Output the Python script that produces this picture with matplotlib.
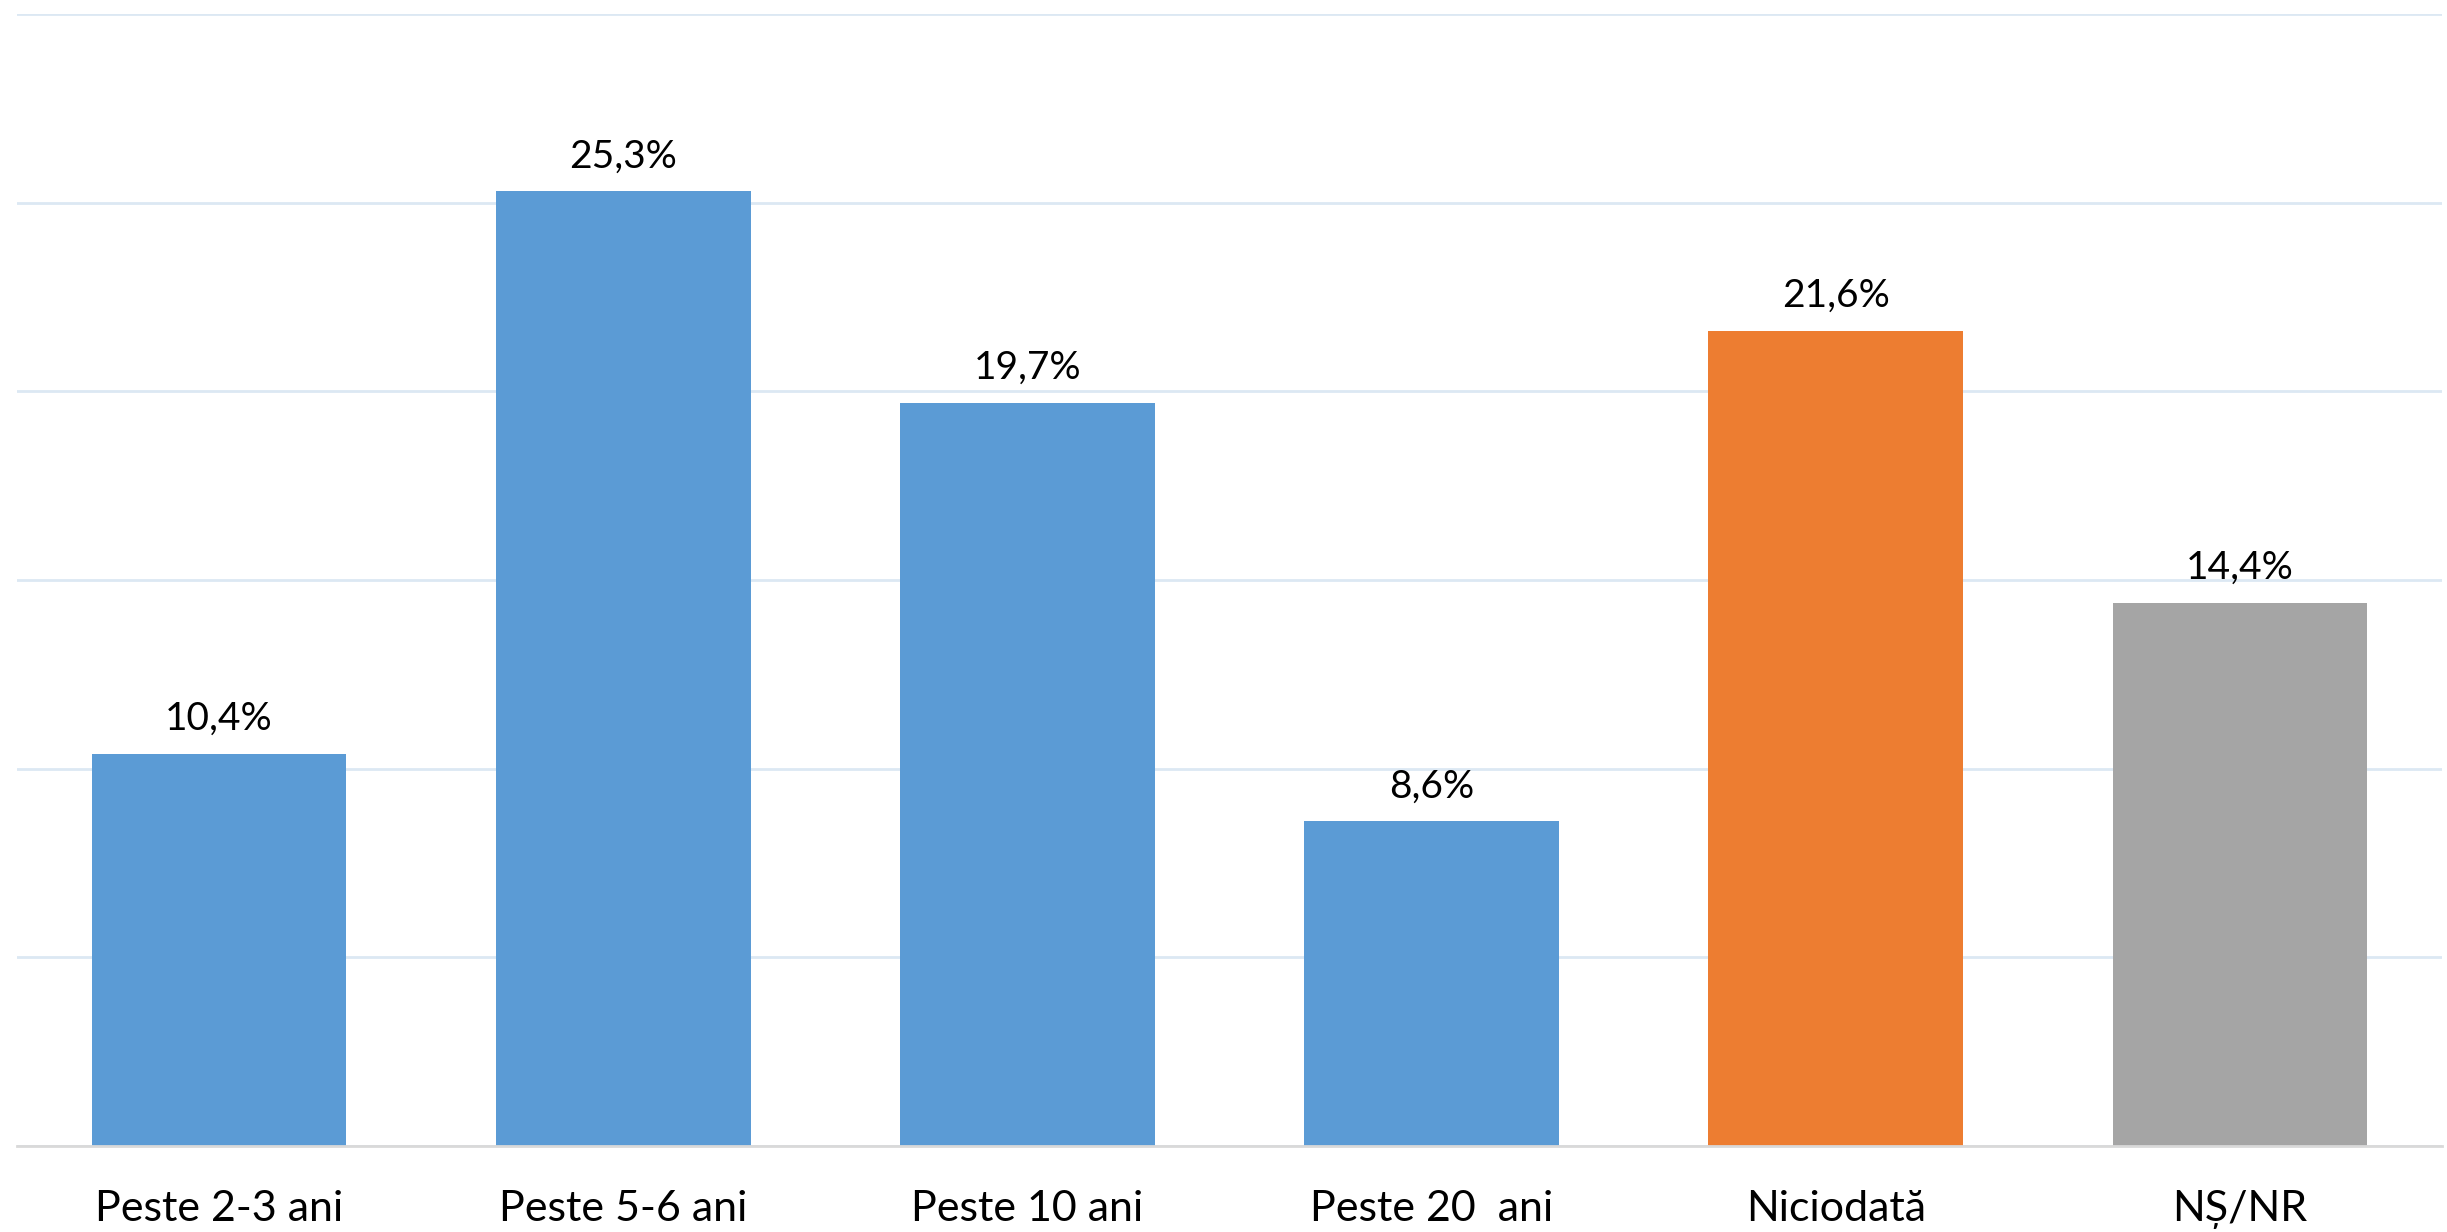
import numpy as np
import matplotlib
matplotlib.use('Agg')
import matplotlib.pyplot as plt

plt.rcParams['font.family'] = ['Lato', 'DejaVu Sans']

categories = ['Peste 2-3 ani', 'Peste 5-6 ani', 'Peste 10 ani', 'Peste 20  ani',
              'Niciodată', 'NȘ/NR']
values = [10.4, 25.3, 19.7, 8.6, 21.6, 14.4]
labels = ['10,4%', '25,3%', '19,7%', '8,6%', '21,6%', '14,4%']
bar_colors = ['#5B9BD5', '#5B9BD5', '#5B9BD5', '#5B9BD5', '#ED7D31', '#A5A5A5']

fig = plt.figure(figsize=(24.47, 12.32), dpi=100)
ax = fig.add_axes([17 / 2447, 1 - 1146 / 1232, (2442 - 17) / 2447, (1146 - 14) / 1232])

x = np.arange(len(categories))
bars = ax.bar(x, values, width=0.63, color=bar_colors, zorder=2)

for rect, lab in zip(bars, labels):
    ax.annotate(lab, (rect.get_x() + rect.get_width() / 2, rect.get_height()),
                xytext=(0, 17), textcoords='offset pixels',
                ha='center', va='bottom', fontsize=28, color='black')

ax.set_xlim(-0.5, len(categories) - 0.5)
ax.set_ylim(0, 30)
ax.set_yticks(np.arange(0, 31, 5))
ax.yaxis.grid(True, color='#DCE8F3', linewidth=2, zorder=0)
ax.tick_params(axis='y', left=False, labelleft=False)
ax.tick_params(axis='x', length=0, pad=32, labelsize=31)
ax.set_xticks(x)
ax.set_xticklabels(categories)

for s in ['top', 'right', 'left']:
    ax.spines[s].set_visible(False)
ax.spines['bottom'].set_color('#D9D9D9')
ax.spines['bottom'].set_linewidth(2)

plt.savefig('out.png', dpi=100)
